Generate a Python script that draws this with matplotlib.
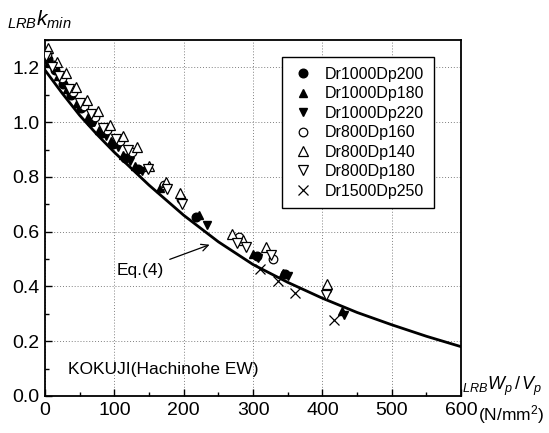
import numpy as np
import matplotlib.pyplot as plt
from matplotlib.ticker import MultipleLocator

plt.rcParams['font.family'] = ['Liberation Sans', 'DejaVu Sans']
plt.rcParams['mathtext.fontset'] = 'custom'
plt.rcParams['mathtext.it'] = 'Liberation Sans:italic'
plt.rcParams['mathtext.rm'] = 'Liberation Sans'

## Data
# Eq.(4) curve
curve_x = [0, 25, 50, 75, 100, 150, 200, 250, 300, 350, 400, 450, 500, 550, 600]
curve_y = [1.19, 1.105, 1.025, 0.955, 0.89, 0.77, 0.66, 0.563, 0.48, 0.415, 0.357, 0.305, 0.26, 0.218, 0.18]

# Dr1000Dp200
d200_x = [4, 14, 26, 38, 52, 66, 82, 98, 116, 134, 218, 306, 346]
d200_y = [1.23, 1.19, 1.14, 1.10, 1.05, 1.00, 0.96, 0.92, 0.87, 0.83, 0.655, 0.51, 0.445]
# Dr1000Dp180
d180_x = [6, 18, 32, 46, 62, 78, 95, 112, 130, 166, 222, 300, 343, 428]
d180_y = [1.22, 1.17, 1.12, 1.07, 1.02, 0.97, 0.93, 0.88, 0.84, 0.76, 0.66, 0.52, 0.45, 0.31]
# Dr1000Dp220
d220_x = [8, 22, 36, 50, 70, 88, 105, 122, 140, 234, 307, 350, 431]
d220_y = [1.21, 1.16, 1.11, 1.06, 1.00, 0.95, 0.91, 0.86, 0.82, 0.625, 0.505, 0.44, 0.295]
# Dr800Dp160
e160_x = [3, 12, 24, 40, 56, 72, 90, 108, 126, 172, 196, 280, 328, 406]
e160_y = [1.25, 1.21, 1.16, 1.11, 1.06, 1.02, 0.97, 0.93, 0.89, 0.77, 0.72, 0.58, 0.50, 0.39]
# Dr800Dp140
e140_x = [5, 17, 30, 45, 60, 77, 94, 113, 132, 150, 174, 195, 270, 285, 318, 407]
e140_y = [1.27, 1.22, 1.18, 1.13, 1.08, 1.04, 0.99, 0.95, 0.91, 0.84, 0.78, 0.74, 0.59, 0.57, 0.545, 0.41]
# Dr800Dp180
e180_x = [2, 10, 20, 34, 50, 66, 84, 102, 120, 148, 176, 197, 277, 290, 326, 405]
e180_y = [1.24, 1.20, 1.17, 1.12, 1.07, 1.03, 0.98, 0.94, 0.90, 0.83, 0.755, 0.70, 0.56, 0.545, 0.515, 0.37]
# Dr1500Dp250
f250_x = [310, 336, 361, 417]
f250_y = [0.465, 0.42, 0.375, 0.277]

## Plot
fig = plt.figure(figsize=(5.49, 4.33), dpi=100)
ax = fig.add_axes([0.082, 0.0855, 0.758, 0.822])

ax.plot(curve_x, curve_y, color='black', lw=2.0, zorder=3)

ms = 6.2
ax.plot(d200_x, d200_y, 'o', ms=ms, mfc='black', mec='black', ls='none', label='Dr1000Dp200', zorder=4)
ax.plot(d180_x, d180_y, '^', ms=ms, mfc='black', mec='black', ls='none', label='Dr1000Dp180', zorder=4)
ax.plot(d220_x, d220_y, 'v', ms=ms, mfc='black', mec='black', ls='none', label='Dr1000Dp220', zorder=4)
ax.plot(e160_x, e160_y, 'o', ms=ms, mfc='white', mec='black', mew=0.9, ls='none', label='Dr800Dp160', zorder=4)
ax.plot(e140_x, e140_y, '^', ms=ms + 1, mfc='white', mec='black', mew=0.9, ls='none', label='Dr800Dp140', zorder=4)
ax.plot(e180_x, e180_y, 'v', ms=ms + 1, mfc='white', mec='black', mew=0.9, ls='none', label='Dr800Dp180', zorder=4)
ax.plot(f250_x, f250_y, 'x', ms=ms + 1, color='black', mew=0.9, ls='none', label='Dr1500Dp250', zorder=4)

ax.set_xlim(0, 600)
ax.set_ylim(0, 1.3)
ax.xaxis.set_major_locator(MultipleLocator(100))
ax.xaxis.set_minor_locator(MultipleLocator(50))
ax.yaxis.set_major_locator(MultipleLocator(0.2))
ax.yaxis.set_minor_locator(MultipleLocator(0.1))
ax.yaxis.set_major_formatter(plt.FuncFormatter(lambda v, p: '{:.1f}'.format(v)))
ax.tick_params(which='both', direction='in', top=False, right=False)
ax.tick_params(which='major', length=5, width=1, labelsize=14, pad=4)
ax.tick_params(which='minor', length=3, width=1)
ax.grid(True, which='major', ls=(0, (1, 2)), color='gray', lw=0.7)
for s in ax.spines.values():
    s.set_linewidth(1.3)

leg = ax.legend(loc='upper right', bbox_to_anchor=(0.935, 0.952), fontsize=11.5,
                frameon=True, fancybox=False, edgecolor='black', framealpha=1,
                handletextpad=0.6, labelspacing=0.28, borderpad=0.6, handlelength=1.5,
                borderaxespad=0)
leg.get_frame().set_linewidth(1.0)

ax.annotate('Eq.(4)', xy=(241, 0.556), xytext=(138, 0.46), fontsize=12.5,
            ha='center', va='center',
            arrowprops=dict(arrowstyle='->', color='black', lw=0.9))
ax.text(33, 0.095, 'KOKUJI(Hachinohe EW)', fontsize=12.5, ha='left', va='center')

fig.text(0.012, 0.955, r'$_{LRB}\mathit{k}_{min}$', fontsize=15, ha='left', va='center')
fig.text(0.842, 0.108, r'$_{LRB}\mathit{W}_{p}\,/\,\mathit{V}_{p}$', fontsize=13, ha='left', va='center')
fig.text(0.87, 0.042, r'(N/mm$^{2}$)', fontsize=12.5, ha='left', va='center')

fig.savefig('out.png', dpi=100)
